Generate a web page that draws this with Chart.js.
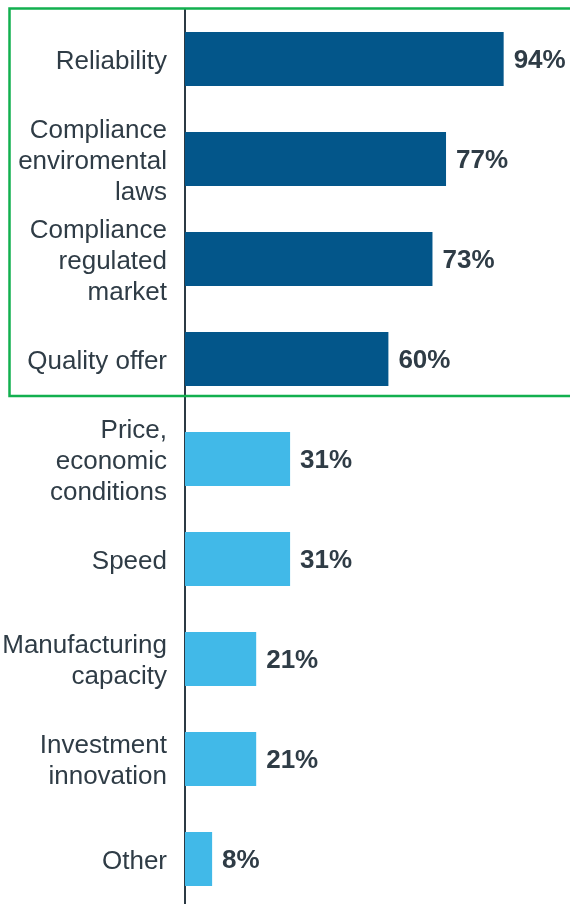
<!DOCTYPE html>
<html>
<head>
<meta charset="utf-8">
<script src="https://cdn.jsdelivr.net/npm/chart.js@4"></script>
<style>
  html, body { margin: 0; padding: 0; background: #fff; overflow: hidden; }
  #wrap { width: 570px; height: 904px; overflow: hidden; }
</style>
</head>
<body>
<div id="wrap"><canvas id="chart" width="570" height="914"></canvas></div>
<script>
// Drivers for choosing a supplier, share of answers
const categories = [
  'Reliability',
  ['Compliance', 'enviromental', 'laws'],
  ['Compliance', 'regulated', 'market'],
  'Quality offer',
  ['Price,', 'economic', 'conditions'],
  'Speed',
  ['Manufacturing', 'capacity'],
  ['Investment', 'innovation'],
  'Other'
];
const shares = [94, 77, 73, 60, 31, 31, 21, 21, 8];
// first four are the top group, highlighted with the green frame
const topGroupSize = 4;

const darkBlue = '#03568a';
const lightBlue = '#41b9e8';
const textColor = '#2f3c46';
const frameGreen = '#12b04f';

const barColors = shares.map((v, i) => i < topGroupSize ? darkBlue : lightBlue);

// percentage labels at the end of each bar
const valueLabels = {
  id: 'valueLabels',
  afterDatasetsDraw(chart) {
    const ctx = chart.ctx;
    const meta = chart.getDatasetMeta(0);
    ctx.save();
    ctx.font = 'bold 26px "Liberation Sans", Arial, sans-serif';
    ctx.fillStyle = textColor;
    ctx.textAlign = 'left';
    ctx.textBaseline = 'middle';
    meta.data.forEach((bar, i) => {
      ctx.fillText(shares[i] + '%', bar.x + 10, bar.y + 2);
    });
    ctx.restore();
  }
};

// green frame around the top group
const groupFrame = {
  id: 'groupFrame',
  afterDraw(chart) {
    const ctx = chart.ctx;
    const meta = chart.getDatasetMeta(0);
    const lastBar = meta.data[topGroupSize - 1];
    const top = chart.chartArea.top - 0.5;
    const bottom = lastBar.y + lastBar.height / 2 + 10;
    ctx.save();
    ctx.strokeStyle = frameGreen;
    ctx.lineWidth = 2.5;
    ctx.beginPath();
    ctx.moveTo(chart.width + 5, top);
    ctx.lineTo(9.5, top);
    ctx.lineTo(9.5, bottom);
    ctx.lineTo(chart.width + 5, bottom);
    ctx.stroke();
    ctx.restore();
  }
};

new Chart(document.getElementById('chart'), {
  type: 'bar',
  data: {
    labels: categories,
    datasets: [{
      data: shares,
      backgroundColor: barColors,
      borderWidth: 0,
      barPercentage: 0.54,
      categoryPercentage: 1
    }]
  },
  options: {
    indexAxis: 'y',
    responsive: false,
    animation: false,
    layout: { padding: { top: 9, right: 46, bottom: 5, left: 0 } },
    plugins: {
      legend: { display: false },
      tooltip: { enabled: false }
    },
    scales: {
      x: {
        display: false,
        min: 0,
        max: 100
      },
      y: {
        afterFit(scale) {
          scale.width = 185;
          scale.paddingTop = 0;
          scale.paddingBottom = 0;
        },
        grid: { display: false, drawTicks: false },
        border: { display: true, color: '#2c3a44', width: 2 },
        ticks: {
          padding: 18,
          labelOffset: 2.5,
          color: textColor,
          font: { family: '"Liberation Sans", Arial, sans-serif', size: 26, lineHeight: 1.19 }
        }
      }
    }
  },
  plugins: [valueLabels, groupFrame]
});
</script>
</body>
</html>
